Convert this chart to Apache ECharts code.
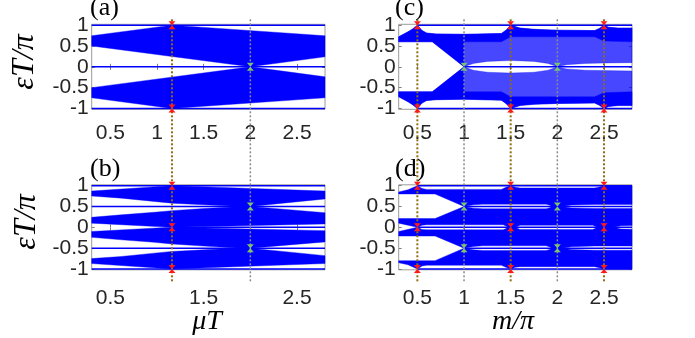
<!DOCTYPE html>
<html><head><meta charset="utf-8">
<script src="https://cdn.jsdelivr.net/npm/echarts@6/dist/echarts.min.js"></script>
<style>html,body{margin:0;padding:0;background:#fff}#c{width:695px;height:338px}</style>
</head><body><div id="c"></div>
<script>
// ---------- axis data ----------
const xRange = [0.3, 2.8];
const yRange = [-1.02, 1.02];
const xTicksFull = [0.5, 1, 1.5, 2, 2.5];
const xTicksSparse = [0.5, 1.5, 2.5];
const yTicks = [-1, -0.5, 0, 0.5, 1];

// ---------- panel (a): upper band edges (lower band is its mirror) ----------
const aBandTop = [[0.3,0.745],[1.16,1.0],[2.8,0.745]];
const aBandBot = [[0.3,0.50],[2.0,0.0],[2.8,0.24]];
const aLines = [[1,0.3,2.8],[0,0.3,2.8],[-1,0.3,2.8]];
const aRed = [[1.16,1],[1.16,-1]];
const aGreen = [[2,0]];

// ---------- panel (b) ----------
const bBand1Top = [[0.3,0.87],[1.16,1.0],[2.8,0.87]];
const bBand1Bot = [[0.3,0.75],[0.62,0.70],[0.97,0.62],[1.16,0.58],[1.5,0.54],[1.85,0.505],[2.0,0.5],[2.8,0.68]];
const bBand2Top = [[0.3,0.24],[0.62,0.30],[0.97,0.36],[1.16,0.40],[1.5,0.45],[1.85,0.495],[2.0,0.5],[2.8,0.35]];
const bBand2Bot = [[0.3,0.10],[1.1,0.005],[1.16,0.0],[2.8,0.08]];
const bLines = [[1,0.3,2.8],[0.5,0.3,2.8],[0,1.16,2.8],[-0.5,0.3,2.8],[-1,0.3,2.8]];
const bRed = [[1.16,1],[1.16,0],[1.16,-1]];
const bGreen = [[2,0.5],[2,-0.5]];

// ---------- panel (c) ----------
const cMeshTop = [[0.3,0.72],[0.35,0.78],[0.4,0.84],[0.45,0.91],[0.5,1.0],[0.55,0.87],[0.6,0.81],[0.7,0.79],[1.0,0.78],[1.4,0.80],[1.45,0.88],[1.5,1.0],[1.6,0.93],[1.75,0.90],[2.0,0.88],[2.4,0.87],[2.45,0.92],[2.5,1.0],[2.55,0.95],[2.65,0.93],[2.8,0.93]];
const cMeshBot = [[0.3,0.60],[0.66,0.60],[1.0,0.0],[1.1,0.08],[1.25,0.13],[1.5,0.15],[1.75,0.13],[1.9,0.08],[2.0,0.0],[2.1,0.05],[2.3,0.08],[2.5,0.09],[2.8,0.10]];
const cDenseLTop = [[0.3,0.72],[0.35,0.78],[0.4,0.84],[0.45,0.91],[0.5,1.0],[0.55,0.87],[0.6,0.81],[0.7,0.79],[1.0,0.78]];
const cDenseLBot = [[0.3,0.60],[0.66,0.60],[1.0,0.0]];
const cDenseRTop = [[1.0,0.78],[1.4,0.80],[1.45,0.88],[1.5,1.0],[1.6,0.93],[1.75,0.90],[2.0,0.88],[2.4,0.87],[2.45,0.92],[2.5,1.0],[2.55,0.95],[2.65,0.93],[2.8,0.93]];
const cDenseRBot = [[1.0,0.60],[1.4,0.60],[1.5,0.72],[2.0,0.72],[2.4,0.72],[2.5,0.62],[2.8,0.60]];
const cLines = [[1,0.5,2.8],[0,1.0,2.8],[-1,0.5,2.8]];
const cRed = [[0.5,1],[0.5,-1],[1.5,1],[1.5,-1],[2.5,1],[2.5,-1]];
const cGreen = [[1,0],[2,0]];

// ---------- panel (d) ----------
const dBand1Top = [[0.3,0.85],[0.4,0.9],[0.5,1.0],[0.55,0.93],[0.6,0.91],[1.4,0.91],[1.45,0.96],[1.5,1.0],[1.55,0.96],[1.6,0.945],[2.4,0.945],[2.45,0.97],[2.5,1.0],[2.8,1.0]];
const dBand1Bot = [[0.3,0.80],[0.69,0.80],[1.0,0.5],[1.1,0.54],[1.2,0.555],[1.88,0.555],[1.92,0.53],[1.94,0.5],[2.05,0.5],[2.15,0.535],[2.4,0.55],[2.8,0.55]];
const dBand2Top = [[0.3,0.21],[0.69,0.21],[1.0,0.5],[1.1,0.46],[1.2,0.445],[1.88,0.445],[1.92,0.47],[1.94,0.5],[2.05,0.5],[2.15,0.465],[2.4,0.45],[2.8,0.45]];
const dBand2Bot = [[0.3,0.10],[0.5,0.0],[0.55,0.05],[0.6,0.06],[1.42,0.06],[1.45,0.03],[1.47,0.0],[1.55,0.0],[1.6,0.05],[2.38,0.05],[2.41,0.02],[2.43,0.0],[2.6,0.0],[2.68,0.04],[2.8,0.045]];
const dLines = [[1,0.5,2.8],[0.5,1.0,2.8],[0,0.5,2.8],[-0.5,1.0,2.8],[-1,0.5,2.8]];
const dRed = [[0.5,1],[0.5,0],[0.5,-1],[1.5,1],[1.5,0],[1.5,-1],[2.5,1],[2.5,0],[2.5,-1]];
const dGreen = [[1,0.5],[1,-0.5],[2,0.5],[2,-0.5]];

// ---------- vertical reference lines ----------
const leftBrown = [1.16];
const leftGray = [2];
const rightBrown = [0.5, 1.5, 2.5];
const rightGray = [1, 2];

// ---------- styles ----------
const BLUE = '#0000ff';
const MESH = 'rgba(0,0,255,0.72)';
const RED = '#ff1a1a';
const GREEN = '#7cc46e';
const BROWN = '#8f6d10';
const GRAY = '#8a8a8a';
const FRAME = '#9a9a9a';
const TXT = '#262626';

const GW = 233.3, GH = 85;
const grids = [
  {left:91.7, top:24.3, width:GW, height:GH, show:true, borderColor:FRAME, borderWidth:1, outerBoundsMode:'none'},
  {left:91.7, top:184.8, width:GW, height:GH, show:true, borderColor:FRAME, borderWidth:1, outerBoundsMode:'none'},
  {left:398.7, top:24.3, width:GW, height:GH, show:true, borderColor:FRAME, borderWidth:1, outerBoundsMode:'none'},
  {left:398.7, top:184.8, width:GW, height:GH, show:true, borderColor:FRAME, borderWidth:1, outerBoundsMode:'none'}
];
const xLabelTicks = [xTicksFull, xTicksSparse, xTicksFull, xTicksFull];
const xMargins = [13, 18, 13, 18];

const labelStyle = {fontFamily:'Liberation Sans', fontSize:21, color:TXT};
const tickStyle = (vals) => ({show:true, inside:true, length:3, lineStyle:{color:'#808080', width:1}, customValues: vals});

const xAxes = [], yAxes = [];
for (let i = 0; i < 4; i++) {
  xAxes.push({type:'value', gridIndex:i, min:xRange[0], max:xRange[1], position:'bottom',
    axisLine:{show:false}, splitLine:{show:false}, axisTick:tickStyle(xLabelTicks[i]),
    axisLabel:Object.assign({customValues:xLabelTicks[i], margin:xMargins[i], formatter:v=>String(v)}, labelStyle)});
  yAxes.push({type:'value', gridIndex:i, min:yRange[0], max:yRange[1], position:'left',
    axisLine:{show:false}, splitLine:{show:false}, axisTick:tickStyle(yTicks),
    axisLabel:Object.assign({customValues:yTicks, margin:3, formatter:v=>String(v)}, labelStyle)});
}
for (let i = 0; i < 4; i++) {
  xAxes.push({type:'value', gridIndex:i, min:xRange[0], max:xRange[1], position:'top',
    axisLine:{show:false}, splitLine:{show:false}, axisTick:tickStyle(xLabelTicks[i]), axisLabel:{show:false}});
  yAxes.push({type:'value', gridIndex:i, min:yRange[0], max:yRange[1], position:'right',
    axisLine:{show:false}, splitLine:{show:false}, axisTick:tickStyle(yTicks), axisLabel:{show:false}});
}

// ---------- helpers ----------
const poly = (top, bot) => top.concat(bot.slice().reverse());
const flip = (pts) => pts.map(p => [p[0], -p[1]]);

const series = [];
function addPoly(g, pts, fill, z) {
  series.push({type:'custom', xAxisIndex:g, yAxisIndex:g, silent:true, animation:false, z:z,
    data:[pts[0]],
    renderItem:(params, api) => ({type:'polygon',
      shape:{points: pts.map(p => api.coord(p))},
      style:{fill:fill, stroke:fill, lineWidth:0.4}})});
}
function addBandPair(g, top, bot, fill, z) {
  const p = poly(top, bot);
  addPoly(g, p, fill, z);
  addPoly(g, flip(p), fill, z);
}
function addLines(g, lines) {
  lines.forEach(l => series.push({type:'line', xAxisIndex:g, yAxisIndex:g, silent:true, animation:false, z:4,
    symbol:'none', lineStyle:{color:BLUE, width:1.5}, data:[[l[1], l[0]], [l[2], l[0]]]}));
}
const MARK = 'path://M0,0L10,0L5,5L10,10L0,10L5,5Z';
function addMarks(g, pts, color) {
  series.push({type:'scatter', xAxisIndex:g, yAxisIndex:g, silent:true, animation:false, z:10,
    symbol:MARK, symbolSize:[7,8], itemStyle:{color:color, opacity:1}, data:pts});
}

// panel a
addBandPair(0, aBandTop, aBandBot, BLUE, 2);
addLines(0, aLines);
addMarks(0, aRed, RED); addMarks(0, aGreen, GREEN);
// panel b
addBandPair(1, bBand1Top, bBand1Bot, BLUE, 2);
addBandPair(1, bBand2Top, bBand2Bot, BLUE, 2);
addLines(1, bLines);
addMarks(1, bRed, RED); addMarks(1, bGreen, GREEN);
// panel c
addBandPair(2, cMeshTop, cMeshBot, MESH, 1);
addBandPair(2, cDenseLTop, cDenseLBot, BLUE, 2);
addBandPair(2, cDenseRTop, cDenseRBot, BLUE, 2);
addLines(2, cLines);
addMarks(2, cRed, RED); addMarks(2, cGreen, GREEN);
// panel d
addBandPair(3, dBand1Top, dBand1Bot, BLUE, 2);
addBandPair(3, dBand2Top, dBand2Bot, BLUE, 2);
addLines(3, dLines);
addMarks(3, dRed, RED); addMarks(3, dGreen, GREEN);

const serif = '"Liberation Serif", "DejaVu Serif", serif';
function txt(text, x, y, size, italic, rot, align) {
  return {type:'text', x:x, y:y, rotation:rot||0, z:20,
    style:{text:text, fill:'#000', font:(italic?'italic ':'') + size + 'px ' + serif,
      textAlign:align||'center', align:align||'center', textVerticalAlign:'middle', verticalAlign:'middle'}};
}

const chart = echarts.init(document.getElementById('c'), null, {renderer:'canvas'});
chart.setOption({
  animation:false, backgroundColor:'#fff',
  grid:grids, xAxis:xAxes, yAxis:yAxes, series:series
});

// dotted vertical reference lines spanning both panels of a column
const graphics = [];
function vline(x, topGrid, botGrid, color, w) {
  const p1 = chart.convertToPixel({xAxisIndex:topGrid, yAxisIndex:topGrid}, [x, yRange[1]]);
  const p2 = chart.convertToPixel({xAxisIndex:botGrid, yAxisIndex:botGrid}, [x, yRange[0]]);
  graphics.push({type:'line', z:6, silent:true,
    shape:{x1:p1[0], y1:p1[1]-5, x2:p2[0], y2:p2[1]+12},
    style:{stroke:color, lineWidth:w, lineDash:[2,2]}});
}
leftGray.forEach(x => vline(x, 0, 1, GRAY, 1.5));
rightGray.forEach(x => vline(x, 2, 3, GRAY, 1.5));
leftBrown.forEach(x => vline(x, 0, 1, BROWN, 2));
rightBrown.forEach(x => vline(x, 2, 3, BROWN, 2));

graphics.push(txt('(a)', 90, 8, 26, false, 0, 'left'));
graphics.push(txt('(b)', 90, 169, 26, false, 0, 'left'));
graphics.push(txt('(c)', 395, 8, 26, false, 0, 'left'));
graphics.push(txt('(d)', 395, 169, 26, false, 0, 'left'));
graphics.push(txt('εT/π', 25, 62, 32, true, Math.PI/2));
graphics.push(txt('εT/π', 27, 222, 32, true, Math.PI/2));
graphics.push(txt('μT', 207, 322, 28, true, 0));
graphics.push(txt('m/π', 513, 322, 28, true, 0));

chart.setOption({graphic:{elements:graphics}});
</script></body></html>
